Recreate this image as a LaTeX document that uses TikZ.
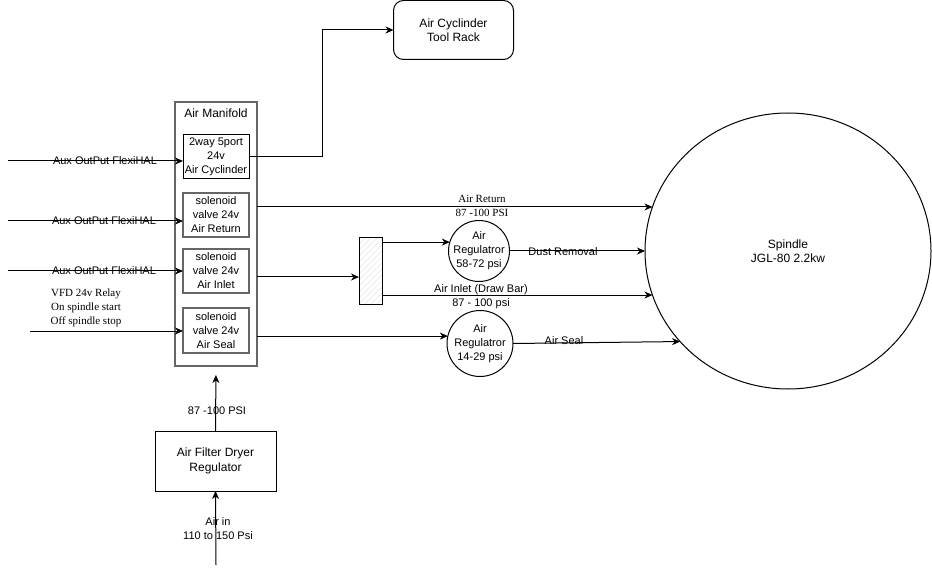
\documentclass[tikz,border=0pt]{standalone}
\usepackage{fontspec}
\setmainfont{Liberation Sans}
\newfontfamily\seriffont{Liberation Serif}
\usetikzlibrary{shapes.geometric,arrows.meta}
\begin{document}
\begin{tikzpicture}[x=1pt,y=-1pt,line width=1pt,
  every node/.style={inner sep=0pt,outer sep=0pt,align=center,font=\fontsize{11}{14}\selectfont},
  ftw/.style={font=\fontsize{12}{14.5}\selectfont},
  serifl/.style={font=\seriffont\fontsize{11}{14}\selectfont},
  arr/.style={-{Stealth[length=8pt,width=7pt,inset=2.5pt]}},
  box/.style={draw,line width=1pt,minimum width=66,minimum height=44},
  gbox/.style={draw=black!60,line width=1.5pt,minimum width=66,minimum height=44},
  rbox/.style={draw,rounded corners=10pt,minimum width=120,minimum height=59,ftw},
  reg/.style={circle,draw}
]
\useasboundingbox (0,0) rectangle (932,572);
% nodes
\node[rbox] (rack) at (453.5,30) {Air Cyclinder\\Tool Rack};
\node[gbox,minimum width=82,minimum height=264] (man) at (216,234) {};
\node[ftw] (mant) at (216,113) {Air Manifold};
\node[box] (b1) at (216,157) {2way 5port\\24v\\Air Cyclinder};
\node[gbox] (b2) at (216,215) {solenoid\\valve 24v\\Air Return};
\node[gbox] (b3) at (216,271) {solenoid\\valve 24v\\Air Inlet};
\node[gbox,minimum height=45] (b4) at (216,330.5) {solenoid\\valve 24v\\Air Seal};
\node[box,minimum width=121,minimum height=60,ftw] (filt) at (215.5,461) {Air Filter Dryer\\Regulator};
\node[draw,minimum width=23,minimum height=66,
  path picture={\foreach \i in {-90,-84,...,30}{\draw[black!10,line width=0.6pt] ([xshift=\i pt]path picture bounding box.south west) -- ++(90,-90);}}] (hb) at (370.5,271) {};
\node[reg,minimum size=61,label={center:{Air\\Regulatror\\58-72 psi}}] (reg1) at (479,251) {};
\node[reg,minimum size=66,label={center:{Air\\Regulatror\\14-29 psi}}] (reg2) at (480,343.5) {};
\node[ellipse,draw,minimum width=286,minimum height=276,ftw] (sp) at (788,251) {Spindle\\JGL-80 2.2kw};
% inputs
\coordinate (i1) at (8,161);
\coordinate (i2) at (8,221);
\coordinate (i3) at (8,271);
\coordinate (i4) at (30,331);
\draw[arr] (i1) -- (i1 -| b1.west);
\draw[arr] (i2) -- (i2 -| b2.west);
\draw[arr] (i3) -- (i3 -| b3.west);
\draw[arr] (i4) -- (i4 -| b4.west);
\node (l1) at (105,161) {Aux OutPut FlexiHAL};
\node (l2) at (104,221) {Aux OutPut FlexiHAL};
\node (l3) at (104,271) {Aux OutPut FlexiHAL};
\node[serifl] (l4) at (86,308) {VFD 24v Relay\\On spindle start\\Off spindle stop};
% outputs
\draw[arr] (b1.east) -- ++(73,0) |- (rack.west);
\draw[arr] (man.east |- sp.162.9) -- (sp.162.9);
\node[serifl] (l5) at (482,206) {Air Return\\87 -100 PSI};
\draw[arr] (man.east |- 0,277) -- (hb.west |- 0,277);
\draw[arr] (hb.east |- reg1.163) -- (reg1.163);
\draw[arr] (reg1.east) -- (reg1.east -| sp.west);
\node (l6) at (563,252) {Dust Removal};
\draw[arr] (hb.east |- sp.198.4) -- (sp.198.4);
\node (l7) at (481,296.5) {Air Inlet (Draw Bar)\\87 - 100 psi};
\draw[arr] (man.east |- reg2.167.8) -- (reg2.167.8);
\draw[arr] (reg2.east) -- (sp.220.8);
\node (l8) at (564,341) {Air Seal};
% filter
\draw[arr,shorten >=9pt] (filt.north) -- (man.south);
\node (l9) at (217,411) {87 -100 PSI};
\coordinate (ain) at (216,565);
\draw[arr] (ain) -- (filt.south);
\node (l10) at (218,529) {Air in\\110 to 150 Psi};
\end{tikzpicture}
\end{document}
